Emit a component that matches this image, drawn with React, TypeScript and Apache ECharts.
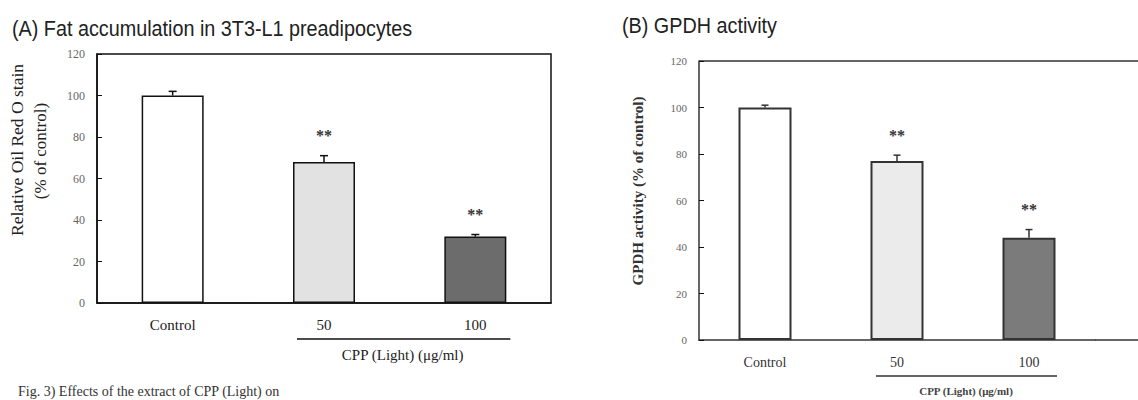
import React, { useEffect, useRef } from "react";
import * as echarts from "echarts";

const categories = ["Control", "50", "100"];
const fatValues = [100, 68, 32];
const fatErrors = [2, 3, 1];
const gpdhValues = [100, 77, 44];
const gpdhErrors = [1, 2.5, 3.5];
const significance = ["", "**", "**"];
const fatColors = ["#ffffff", "#e2e2e2", "#6c6c6c"];
const gpdhColors = ["#ffffff", "#ebebeb", "#7b7b7b"];
const yMin = 0;
const yMax = 120;
const yInterval = 20;

const titleA = "(A) Fat accumulation in 3T3-L1 preadipocytes";
const titleB = "(B) GPDH activity";
const yNameA1 = "Relative Oil Red O stain";
const yNameA2 = "(% of control)";
const yNameB = "GPDH activity (% of control)";
const groupLabel = "CPP (Light) (\u03bcg/ml)";
const caption = "Fig. 3) Effects of the extract of CPP (Light) on";

const SERIF = "'Liberation Serif', 'DejaVu Serif', serif";
const SANS = "'Liberation Sans', Arial, sans-serif";

function errorSeries(values: number[], errors: number[], gridIdx: number, capW: number, color: string, lw: number) {
  return {
    type: "custom",
    xAxisIndex: gridIdx,
    yAxisIndex: gridIdx,
    z: 5,
    data: values.map((v, i) => [i, v, errors[i]]),
    renderItem: (params: any, api: any) => {
      const x = api.value(0);
      const v = api.value(1);
      const e = api.value(2);
      const base = api.coord([x, v]);
      const top = api.coord([x, v + e]);
      const children: any[] = [
        { type: "line", shape: { x1: base[0], y1: base[1], x2: top[0], y2: top[1] }, style: { stroke: color, lineWidth: lw } },
        { type: "line", shape: { x1: top[0] - capW / 2, y1: top[1], x2: top[0] + capW / 2, y2: top[1] }, style: { stroke: color, lineWidth: lw } },
      ];
      const sig = significance[params.dataIndex];
      if (sig) {
        children.push({
          type: "text",
          x: top[0],
          y: top[1] - 20,
          style: { text: sig, fill: "#333", font: `bold 16px ${SERIF}`, align: "center", verticalAlign: "middle" },
        });
      }
      return { type: "group", children };
    },
  };
}

export default function App() {
  const ref = useRef<HTMLDivElement>(null);
  useEffect(() => {
    document.body.style.margin = "0";
    const chart = echarts.init(ref.current!, null, { renderer: "svg" });
    const yAxisBase = (fs: number, color: string) => ({
      type: "value",
      min: yMin,
      max: yMax,
      interval: yInterval,
      splitLine: { show: false },
      axisLine: { show: true, lineStyle: { color: "#111", width: 1.5 } },
      axisTick: { show: true, inside: true, length: 5, lineStyle: { color: "#111" } },
      axisLabel: { fontFamily: SERIF, fontSize: fs, color, margin: 12 },
    });
    chart.setOption({
      animation: false,
      backgroundColor: "#ffffff",
      grid: [
        { left: 97, top: 54, width: 454, height: 249, show: true, borderColor: "#111", borderWidth: 1.5, backgroundColor: "transparent" },
        { left: 699, top: 61, width: 396, height: 279 },
      ],
      xAxis: [
        {
          type: "category",
          gridIndex: 0,
          data: categories,
          axisLine: { lineStyle: { color: "#111", width: 1.5 } },
          axisTick: { show: false },
          axisLabel: { fontFamily: SERIF, fontSize: 15, color: "#222", margin: 14 },
        },
        {
          type: "category",
          gridIndex: 1,
          data: categories,
          axisLine: { lineStyle: { color: "#333", width: 1.5 } },
          axisTick: { show: false },
          axisLabel: { fontFamily: SERIF, fontSize: 14, color: "#333", margin: 15 },
        },
      ],
      yAxis: [
        { ...yAxisBase(12, "#666"), gridIndex: 0 },
        { ...yAxisBase(11, "#666"), gridIndex: 1, axisLine: { show: true, lineStyle: { color: "#333", width: 1.5 } } },
      ],
      series: [
        {
          type: "bar",
          xAxisIndex: 0,
          yAxisIndex: 0,
          barWidth: 62,
          data: fatValues.map((v, i) => ({ value: v, itemStyle: { color: fatColors[i] } })),
          itemStyle: { borderColor: "#111", borderWidth: 1.5 },
        },
        {
          type: "bar",
          xAxisIndex: 1,
          yAxisIndex: 1,
          barWidth: 53,
          data: gpdhValues.map((v, i) => ({ value: v, itemStyle: { color: gpdhColors[i] } })),
          itemStyle: { borderColor: "#333", borderWidth: 2 },
        },
        errorSeries(fatValues, fatErrors, 0, 8, "#111", 1.5),
        errorSeries(gpdhValues, gpdhErrors, 1, 7, "#333", 1.5),
      ],
    });

    const pa1 = chart.convertToPixel({ xAxisIndex: 0 }, "50") as number;
    const pa2 = chart.convertToPixel({ xAxisIndex: 0 }, "100") as number;
    const pb1 = chart.convertToPixel({ xAxisIndex: 1 }, "50") as number;
    const pb2 = chart.convertToPixel({ xAxisIndex: 1 }, "100") as number;
    const topB = chart.convertToPixel({ yAxisIndex: 1 }, yMax) as number;
    const botB = chart.convertToPixel({ yAxisIndex: 1 }, yMin) as number;
    const leftB = 699;

    chart.setOption({
      graphic: [
        { type: "text", x: 12, y: 28, scaleX: 0.9, style: { text: titleA, font: `22px ${SANS}`, fill: "#222", verticalAlign: "middle" } },
        { type: "text", x: 622, y: 25, scaleX: 0.9, style: { text: titleB, font: `22px ${SANS}`, fill: "#222", verticalAlign: "middle" } },
        { type: "text", x: 17, y: 150, rotation: Math.PI / 2, style: { text: yNameA1, font: `17.5px ${SERIF}`, fill: "#222", align: "center", verticalAlign: "middle" } },
        { type: "text", x: 40, y: 151, rotation: Math.PI / 2, style: { text: yNameA2, font: `17px ${SERIF}`, fill: "#222", align: "center", verticalAlign: "middle" } },
        { type: "text", x: 638, y: 191, rotation: Math.PI / 2, style: { text: yNameB, font: `bold 15px ${SERIF}`, fill: "#333", align: "center", verticalAlign: "middle" } },
        { type: "line", shape: { x1: pa1 - 27, y1: 339, x2: pa2 + 35, y2: 339 }, style: { stroke: "#111", lineWidth: 1.5 } },
        { type: "text", x: (pa1 + pa2) / 2 + 3, y: 355, style: { text: groupLabel, font: `15px ${SERIF}`, fill: "#222", align: "center", verticalAlign: "middle" } },
        { type: "line", shape: { x1: pb1 - 21, y1: 376, x2: pb2 + 28, y2: 376 }, style: { stroke: "#333", lineWidth: 1.5 } },
        { type: "text", x: (pb1 + pb2) / 2 + 3, y: 391, style: { text: groupLabel, font: `bold 11px ${SERIF}`, fill: "#444", align: "center", verticalAlign: "middle" } },
        { type: "line", shape: { x1: leftB, y1: topB, x2: 1138, y2: topB }, style: { stroke: "#333", lineWidth: 1.5 } },
        { type: "line", shape: { x1: leftB + 396, y1: botB, x2: 1138, y2: botB }, style: { stroke: "#333", lineWidth: 1.5 } },
        { type: "text", left: 18, top: 384, style: { text: caption, font: `14px ${SERIF}`, fill: "#333" } },
      ],
    });
    return () => chart.dispose();
  }, []);
  return <div ref={ref} style={{ width: 1138, height: 400 }} />;
}
